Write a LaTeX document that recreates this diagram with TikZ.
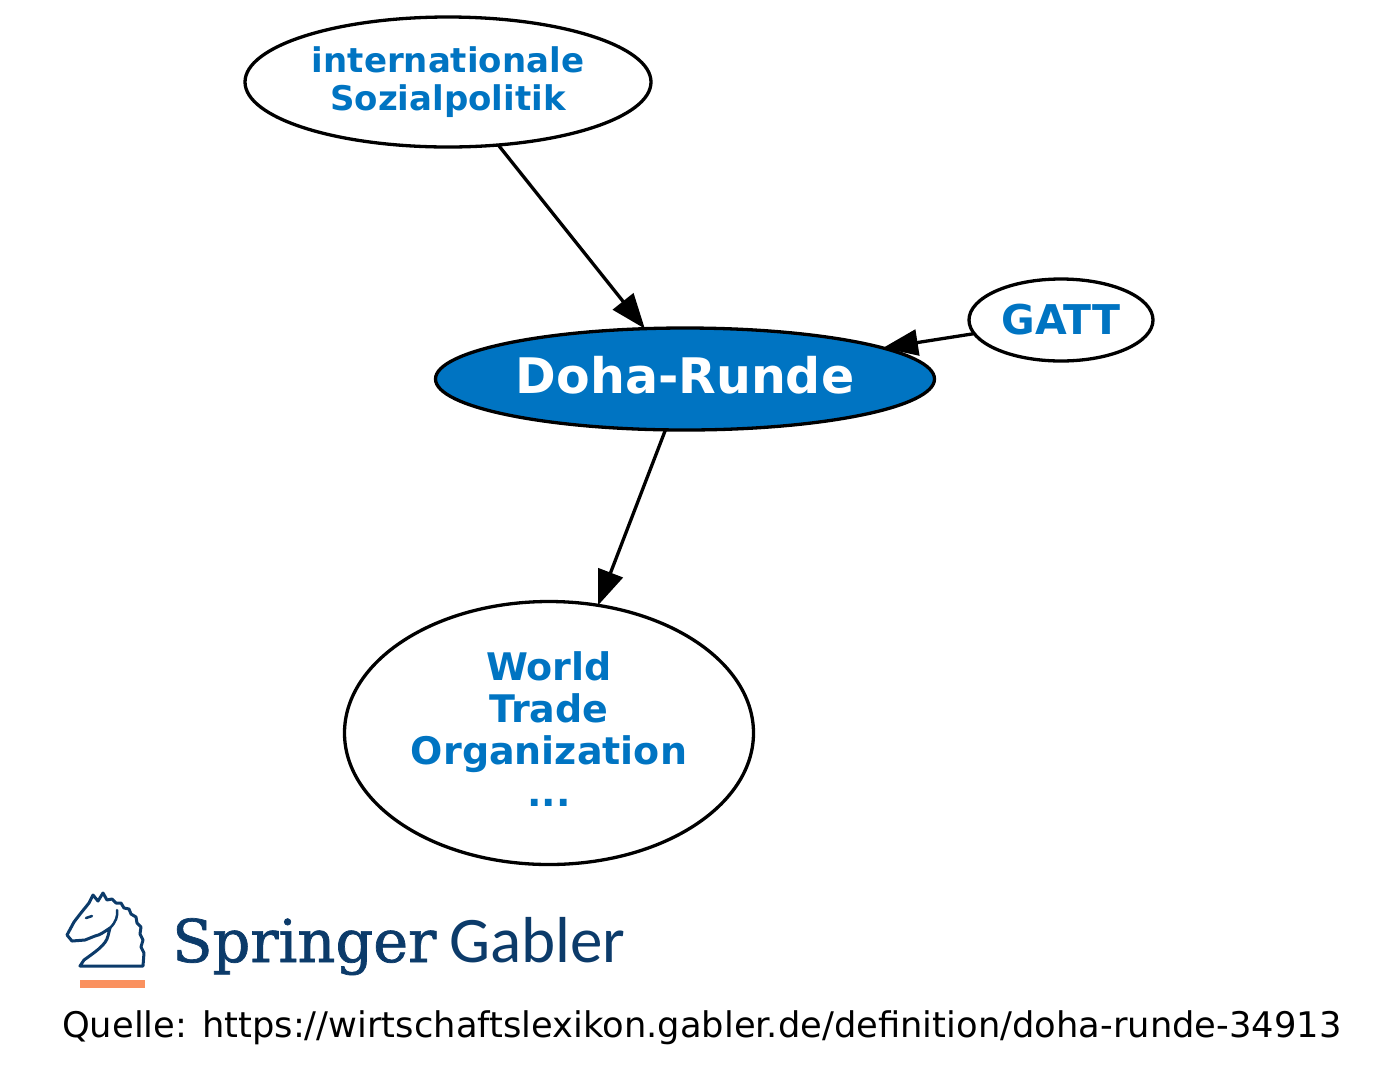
\documentclass[tikz,border=0pt]{standalone}
\usepackage{fontspec}
\setmainfont{DejaVu Sans}
\newfontfamily\springerfont[FakeBold=1.2]{DejaVu Serif}
\newfontfamily\gablerfont{Carlito}
\usetikzlibrary{shapes.geometric,arrows.meta}
\definecolor{gblue}{RGB}{0,116,194}
\definecolor{sdark}{RGB}{12,59,106}
\definecolor{sorange}{RGB}{250,145,95}
\tikzset{
  ell/.style={ellipse, draw=black, line width=3.3pt, inner sep=0pt, outer sep=0pt, align=center,
    text=gblue, font=\fontsize{38}{42}\selectfont\bfseries},
  lbl/.style={inner sep=0pt, align=center, text=gblue, font=\fontsize{38}{42}\selectfont\bfseries},
  edge/.style={draw=black, line width=3.3pt, -{Triangle[length=35pt,width=26pt]}},
}
\begin{document}
\begin{tikzpicture}[x=1pt,y=-1pt]
\useasboundingbox (0,0) rectangle (1400,1088);
\node[ell, minimum width=406pt, minimum height=130pt,
  font=\fontsize{34}{38}\selectfont\bfseries] (isp) at (448,82) {internationale\\Sozialpolitik};
\node[ell, fill=gblue, text=white, minimum width=499pt, minimum height=102pt,
  text height=36pt, text depth=8pt,
  font=\fontsize{49}{58}\selectfont\bfseries] (doha) at (685,379) {Doha-Runde};
\node[ell, minimum width=184pt, minimum height=82pt,
  font=\fontsize{41}{46}\selectfont\bfseries] (gatt) at (1061,320) {GATT};
\node[ell, minimum width=409pt, minimum height=263pt] (wto) at (549,733) {};
\node[lbl] (wtotext) at (549,729) {World\\Trade\\Organization\\...};
\draw[edge] (isp) -- (doha);
\draw[edge] (gatt) -- (doha);
\draw[edge] (doha) -- (wto);
% logo
\draw[sdark, line width=3pt, line join=round, line cap=round]
  (80,966) -- (84,960) .. controls (95,952) and (106,945) .. (108,936)
  -- (110,928) .. controls (104,932) and (100,935) .. (95,936)
  -- (85,940) -- (72,941) -- (67,935) -- (74,922) .. controls (80,914) and (85,908) .. (89,903)
  -- (93,895) -- (98,901) -- (103,893) -- (107,900)
  -- (112,899) -- (116,903) -- (121,903) -- (124,908) -- (129,909) -- (131,914) -- (136,917)
  -- (137,923) -- (141,927) -- (140,934) -- (143,940) -- (141,947) -- (144,953) -- (143,966) -- cycle;
\draw[sdark, line width=2.5pt, line cap=round] (86,918) -- (92,916);
\draw[sdark, line width=2.5pt, line cap=round] (110,928) .. controls (116,922) and (118,916) .. (117,910);
\fill[sorange] (80,980) rectangle (145,988);
\node[anchor=base west, inner sep=0pt, text=sdark, font=\springerfont\fontsize{59}{59}\selectfont] (spr) at (172,962) {Springer};
\node[anchor=base west, inner sep=0pt, text=sdark, font=\gablerfont\fontsize{65}{65}\selectfont] (gab) at (449,962) {Gabler};
\node[anchor=base west, inner sep=0pt, text=black, font=\fontsize{35.3}{36}\selectfont] (src) at (62,1037) {Quelle: https://wirtschaftslexikon.gabler.de/definition/doha-runde-34913};
\end{tikzpicture}
\end{document}
